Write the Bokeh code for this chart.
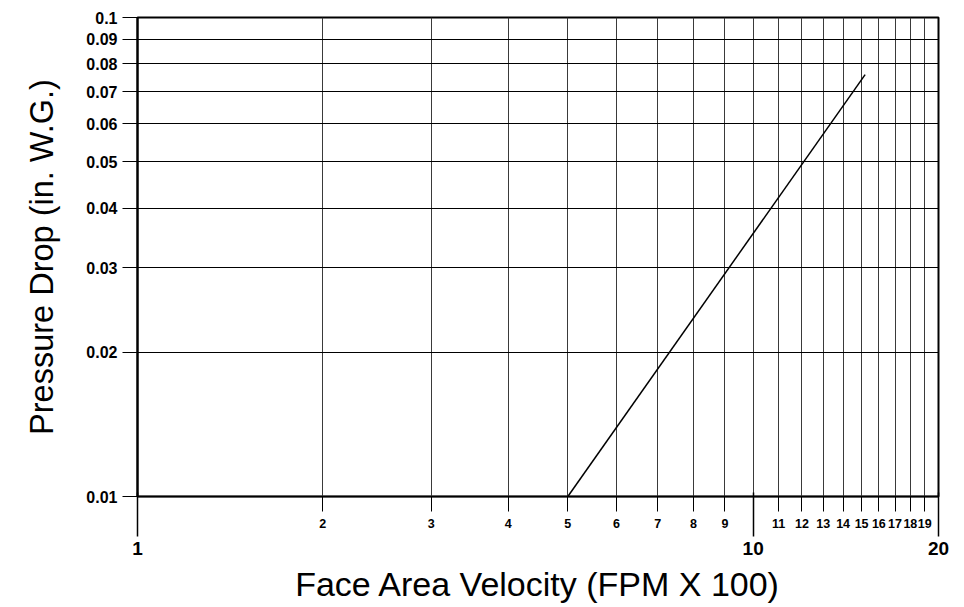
from bokeh.plotting import figure
from bokeh.models import Range1d, FixedTicker, LogAxis
from bokeh.embed import file_html
from bokeh.resources import INLINE

# ---- data ----
velocity = [5.0, 15.2]          # FPM x 100
pressure_drop = [0.01, 0.076]   # in. W.G.

x_small_ticks = [2, 3, 4, 5, 6, 7, 8, 9, 11, 12, 13, 14, 15, 16, 17, 18, 19]
x_big_ticks = [1, 10, 20]
y_ticks = [0.01, 0.02, 0.03, 0.04, 0.05, 0.06, 0.07, 0.08, 0.09, 0.1]
y_tick_labels = ["0.01", "0.02", "0.03", "0.04", "0.05", "0.06", "0.07", "0.08", "0.09", "0.1"]

x_title = "Face Area Velocity (FPM X 100)"
y_title = "Pressure Drop (in. W.G.)"

FONT = "Liberation Sans"

p = figure(width=956, height=605, x_axis_type="log", y_axis_type="log",
           x_range=Range1d(1, 20), y_range=Range1d(0.01, 0.1),
           output_backend="svg", toolbar_location=None, title=None,
           min_border_left=137, min_border_right=18, min_border_top=17, min_border_bottom=108)
p.background_fill_color = "white"
p.border_fill_color = "white"
p.outline_line_color = "black"
p.outline_line_width = 2

all_x = sorted(x_small_ticks + x_big_ticks)

# inner x axis: small labels
ax = p.xaxis[0]
ax.ticker = FixedTicker(ticks=all_x, minor_ticks=[])
ax.major_label_overrides = {v: (str(v) if v in x_small_ticks else "") for v in all_x}
ax.major_tick_out = 15
ax.major_tick_in = 0
ax.minor_tick_out = 0
ax.minor_tick_in = 0
ax.major_tick_line_color = "black"
ax.major_tick_line_width = 1
ax.axis_line_color = "black"
ax.axis_line_width = 1.5
ax.major_label_text_font = FONT
ax.major_label_text_font_style = "bold"
ax.major_label_text_font_size = "12.5px"
ax.major_label_text_color = "black"
ax.major_label_standoff = 7

# outer x axis: big labels + title
ax2 = LogAxis(ticker=FixedTicker(ticks=x_big_ticks, minor_ticks=[]))
ax2.major_label_overrides = {v: str(v) for v in x_big_ticks}
ax2.major_tick_in = 38
ax2.major_tick_out = 6
ax2.minor_tick_out = 0
ax2.minor_tick_in = 0
ax2.major_tick_line_color = "black"
ax2.major_tick_line_width = 1.5
ax2.axis_line_color = None
ax2.major_label_text_font = FONT
ax2.major_label_text_font_style = "bold"
ax2.major_label_text_font_size = "19px"
ax2.major_label_text_color = "black"
ax2.major_label_standoff = 5
ax2.axis_label = x_title
ax2.axis_label_text_font = FONT
ax2.axis_label_text_font_style = "normal"
ax2.axis_label_text_font_size = "34px"
ax2.axis_label_text_color = "black"
ax2.axis_label_standoff = 7
p.add_layout(ax2, "below")

# y axis
ay = p.yaxis[0]
ay.ticker = FixedTicker(ticks=y_ticks, minor_ticks=[])
ay.major_label_overrides = dict(zip(y_ticks, y_tick_labels))
ay.major_tick_out = 15
ay.major_tick_in = 0
ay.minor_tick_out = 0
ay.minor_tick_in = 0
ay.major_tick_line_color = "black"
ay.axis_line_color = "black"
ay.axis_line_width = 2
ay.major_label_text_font = FONT
ay.major_label_text_font_style = "bold"
ay.major_label_text_font_size = "16px"
ay.major_label_text_color = "black"
ay.major_label_standoff = 5
ay.axis_label = y_title
ay.axis_label_text_font = FONT
ay.axis_label_text_font_style = "normal"
ay.axis_label_text_font_size = "32.5px"
ay.axis_label_text_color = "black"
ay.axis_label_standoff = 23

# grids
p.xgrid.grid_line_color = "#3a3a3a"
p.xgrid.grid_line_width = 1
p.ygrid.grid_line_color = "black"
p.ygrid.grid_line_width = 1
p.xgrid.minor_grid_line_color = None
p.ygrid.minor_grid_line_color = None

p.line(velocity, pressure_drop, line_color="black", line_width=1.5)

open("out.html", "w").write(file_html(p, INLINE))
